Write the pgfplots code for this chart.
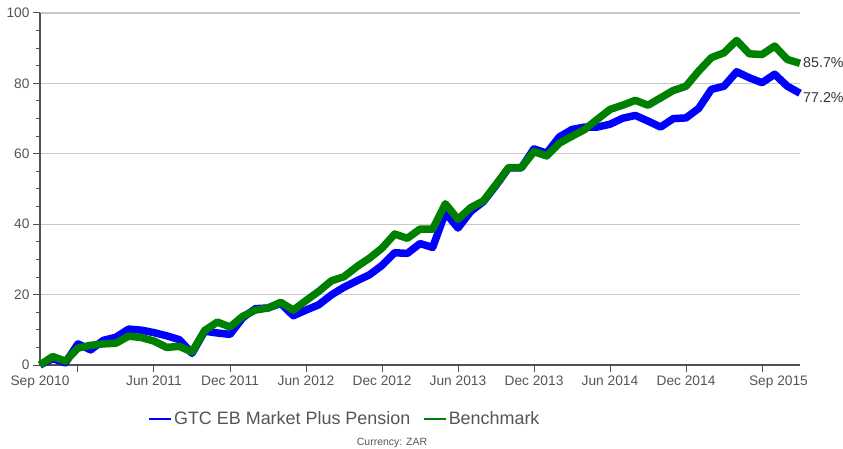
\documentclass[border=0pt]{standalone}
\usepackage{pgfplots}
\pgfplotsset{compat=1.18}
\usepackage{fontspec}
\setmainfont{Liberation Sans}
\definecolor{fundblue}{RGB}{0,0,255}
\definecolor{benchgreen}{RGB}{0,128,0}
\definecolor{txtgray}{RGB}{85,85,85}
\definecolor{axgray}{RGB}{80,80,80}
\definecolor{gridgray}{RGB}{200,200,200}
\begin{document}
\begin{tikzpicture}
\useasboundingbox (-40bp,-84bp) rectangle (803bp,365bp);
\begin{axis}[
  scale only axis,
  width=760bp, height=352bp,
  xmin=0, xmax=60, ymin=0, ymax=100,
  clip=false,
  axis x line=bottom, axis y line=left,
  axis line style={draw=axgray, line width=1.2bp, -},
  tick align=outside,
  major tick length=7bp, minor tick length=4bp,
  tick style={draw=axgray, line width=1bp},
  xtick={3,9,15,21,27,33,39,45,51,57},
  xticklabels={,Jun 2011,Dec 2011,Jun 2012,Dec 2012,Jun 2013,Dec 2013,Jun 2014,Dec 2014,},
  extra x ticks={0,58.3},
  extra x tick labels={Sep 2010,Sep 2015},
  extra x tick style={major tick length=0pt, tick label style={yshift=-7bp}},
  ytick={0,20,40,60,80,100},
  minor y tick num=3,
  ymajorgrids,
  major grid style={draw=gridgray, line width=1.2bp},
  ticklabel style={font=\fontsize{13.8}{16}\selectfont, text=txtgray},
  /pgf/number format/assume math mode=true,
  legend columns=2,
  legend style={at={(0.4007,-0.1534)}, anchor=center, draw=none, fill=none,
    font=\fontsize{18}{21}\selectfont, text=txtgray,
    /tikz/every even column/.append style={column sep=10bp}},
  legend image code/.code={\draw[#1, line width=2.5bp] (0bp,0bp) -- (22bp,0bp);},
]
\addplot[fundblue, line width=7.5bp, line join=round] coordinates {
(0,0) (1,1.8) (2,0.6) (3,6.0) (4,4.3) (5,7.0) (6,7.9) (7,10.2) (8,9.9) (9,9.2)
(10,8.3) (11,7.2) (12,3.3) (13,9.6) (14,9.1) (15,8.7) (16,13.4) (17,16.0) (18,16.2) (19,17.5)
(20,14.0) (21,15.6) (22,17.1) (23,19.9) (24,22.1) (25,23.9) (26,25.6) (27,28.3) (28,31.9) (29,31.7)
(30,34.5) (31,33.4) (32,43.3) (33,38.9) (34,43.6) (35,46.4) (36,51.0) (37,56.0) (38,56.0) (39,61.4)
(40,60.2) (41,64.8) (42,66.9) (43,67.6) (44,67.6) (45,68.4) (46,70.1) (47,70.9) (48,69.3) (49,67.6)
(50,70.0) (51,70.2) (52,72.9) (53,78.3) (54,79.2) (55,83.3) (56,81.6) (57,80.2) (58,82.6) (59,79.2)
(60,77.2)
};
\addlegendentry{GTC EB Market Plus Pension}
\addplot[benchgreen, line width=7.5bp, line join=round] coordinates {
(0,0) (1,2.4) (2,1.1) (3,4.8) (4,5.6) (5,6.0) (6,6.2) (7,8.2) (8,7.8) (9,6.8)
(10,5.0) (11,5.3) (12,3.7) (13,9.8) (14,12.2) (15,10.8) (16,13.8) (17,15.6) (18,16.2) (19,17.8)
(20,15.6) (21,18.3) (22,20.9) (23,23.9) (24,25.1) (25,27.9) (26,30.3) (27,33.2) (28,37.2) (29,36.0)
(30,38.6) (31,38.6) (32,45.8) (33,41.4) (34,44.7) (35,46.6) (36,51.3) (37,56.1) (38,56.1) (39,60.6)
(40,59.4) (41,63.0) (42,65.0) (43,66.9) (44,69.8) (45,72.6) (46,73.8) (47,75.2) (48,73.8) (49,75.9)
(50,78.0) (51,79.2) (52,83.5) (53,87.3) (54,88.7) (55,92.2) (56,88.4) (57,88.2) (58,90.6) (59,86.8)
(60,85.7)
};
\addlegendentry{Benchmark}
\node[anchor=west, font=\fontsize{14.3}{16}\selectfont, text=black!80, inner sep=0pt, xshift=3bp] at (axis cs:60,85.9) {85.7\%};
\node[anchor=west, font=\fontsize{14.3}{16}\selectfont, text=black!80, inner sep=0pt, xshift=3bp] at (axis cs:60,76.0) {77.2\%};
\end{axis}
\node[font=\fontsize{10.5}{12}\selectfont, text=txtgray] at (352bp,-78bp) {Currency: ZAR};
\end{tikzpicture}
\end{document}
